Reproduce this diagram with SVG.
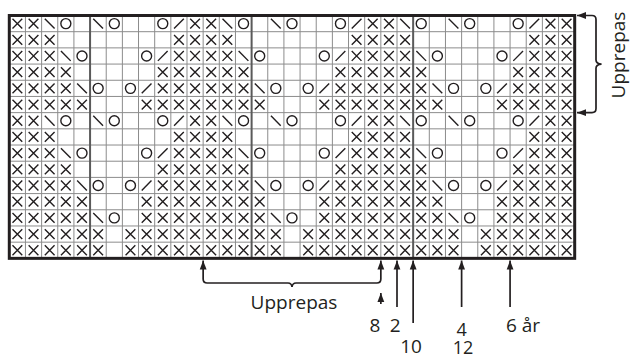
<svg xmlns="http://www.w3.org/2000/svg" width="630" height="358" viewBox="0 0 630 358">
<style>
.sym{fill:none;stroke:#231f20;stroke-width:1.4}
.thin{fill:none;stroke:#8c8c8c;stroke-width:1}
.thick{fill:none;stroke:#5a5a5a;stroke-width:2}
.border{fill:none;stroke:#231f20;stroke-width:3}
.conn{fill:none;stroke:#231f20;stroke-width:1.7}
.lbl{font-family:"Open Sans","Liberation Sans",sans-serif;font-size:19px;fill:#231f20}
.sm{font-size:18px}
</style>
<defs>
<path id="sx" d="M3.2 3.2L12.95 13M12.95 3.2L3.2 13"/>
<path id="sb" d="M3.2 3.2L12.95 13"/>
<path id="sf" d="M3.2 13L12.95 3.2"/>
<circle id="so" cx="8.08" cy="8.1" r="5"/>
<g id="rA"><use href="#sx" x="0"/><use href="#sx" x="16.15"/><use href="#sb" x="32.31"/><use href="#so" x="48.46"/><use href="#sb" x="80.77"/><use href="#so" x="96.92"/><use href="#so" x="145.39"/><use href="#sf" x="161.54"/></g>
<g id="rB"><use href="#sx" x="0"/><use href="#sx" x="16.15"/><use href="#sx" x="32.31"/><use href="#sx" x="161.54"/></g>
<g id="rC"><use href="#sx" x="0"/><use href="#sx" x="16.15"/><use href="#sx" x="32.31"/><use href="#sb" x="48.46"/><use href="#so" x="64.62"/><use href="#so" x="129.23"/><use href="#sf" x="145.39"/><use href="#sx" x="161.54"/></g>
<g id="rD"><use href="#sx" x="0"/><use href="#sx" x="16.15"/><use href="#sx" x="32.31"/><use href="#sx" x="48.46"/><use href="#sx" x="145.39"/><use href="#sx" x="161.54"/></g>
<g id="rE"><use href="#sx" x="0"/><use href="#sx" x="16.15"/><use href="#sx" x="32.31"/><use href="#sx" x="48.46"/><use href="#sb" x="64.62"/><use href="#so" x="80.77"/><use href="#so" x="113.08"/><use href="#sf" x="129.23"/><use href="#sx" x="145.39"/><use href="#sx" x="161.54"/></g>
<g id="rF"><use href="#sx" x="0"/><use href="#sx" x="16.15"/><use href="#sx" x="32.31"/><use href="#sx" x="48.46"/><use href="#sx" x="64.62"/><use href="#sx" x="129.23"/><use href="#sx" x="145.39"/><use href="#sx" x="161.54"/></g>
<g id="rG"><use href="#sx" x="0"/><use href="#sx" x="16.15"/><use href="#sx" x="32.31"/><use href="#sx" x="48.46"/><use href="#sx" x="64.62"/><use href="#sb" x="80.77"/><use href="#so" x="96.92"/><use href="#sx" x="129.23"/><use href="#sx" x="145.39"/><use href="#sx" x="161.54"/></g>
<g id="rH"><use href="#sx" x="0"/><use href="#sx" x="16.15"/><use href="#sx" x="32.31"/><use href="#sx" x="48.46"/><use href="#sx" x="64.62"/><use href="#sx" x="80.77"/><use href="#sx" x="113.08"/><use href="#sx" x="129.23"/><use href="#sx" x="145.39"/><use href="#sx" x="161.54"/></g>
<g id="per">
<use href="#rA" y="0"/><use href="#rB" y="16.19"/><use href="#rC" y="32.38"/><use href="#rD" y="48.57"/><use href="#rE" y="64.76"/><use href="#rF" y="80.95"/><use href="#rA" y="97.14"/><use href="#rB" y="113.33"/><use href="#rC" y="129.52"/><use href="#rD" y="145.71"/><use href="#rE" y="161.9"/><use href="#rF" y="178.09"/><use href="#rG" y="194.28"/><use href="#rH" y="210.47"/><use href="#rH" y="226.66"/>
</g>
<clipPath id="gc"><rect x="9.3" y="15.5" width="565.39" height="242.85"/></clipPath>
<marker id="ah" markerUnits="userSpaceOnUse" markerWidth="9" markerHeight="8" viewBox="0 0 9 8" refX="9" refY="4" orient="auto-start-reverse"><path d="M0 0.6L9 4L0 7.4z" fill="#231f20"/></marker>
</defs>
<rect width="630" height="358" fill="#fff"/>
<g id="chart">
<rect x="9.3" y="15.5" width="565.39" height="242.85" fill="#fff"/>
<path class="thin" d="M25.45 15.5V258.35M41.61 15.5V258.35M57.76 15.5V258.35M73.92 15.5V258.35M106.22 15.5V258.35M122.38 15.5V258.35M138.53 15.5V258.35M154.69 15.5V258.35M170.84 15.5V258.35M186.99 15.5V258.35M203.15 15.5V258.35M219.3 15.5V258.35M235.46 15.5V258.35M267.76 15.5V258.35M283.92 15.5V258.35M300.07 15.5V258.35M316.23 15.5V258.35M332.38 15.5V258.35M348.53 15.5V258.35M364.69 15.5V258.35M380.84 15.5V258.35M397 15.5V258.35M429.3 15.5V258.35M445.46 15.5V258.35M461.61 15.5V258.35M477.77 15.5V258.35M493.92 15.5V258.35M510.07 15.5V258.35M526.23 15.5V258.35M542.38 15.5V258.35M558.54 15.5V258.35M9.3 31.69H574.69M9.3 47.88H574.69M9.3 64.07H574.69M9.3 80.26H574.69M9.3 96.45H574.69M9.3 112.64H574.69M9.3 128.83H574.69M9.3 145.02H574.69M9.3 161.21H574.69M9.3 177.4H574.69M9.3 193.59H574.69M9.3 209.78H574.69M9.3 225.97H574.69M9.3 242.16H574.69"/>
<path class="thick" d="M90.07 15.5V258.35M251.61 15.5V258.35M413.15 15.5V258.35"/>
<g class="sym" clip-path="url(#gc)">
<use href="#per" x="9.3" y="15.5"/>
<use href="#per" x="186.99" y="15.5"/>
<use href="#per" x="364.69" y="15.5"/>
<use href="#per" x="542.38" y="15.5"/>
</g>
<rect class="border" x="9.3" y="15.5" width="565.39" height="242.85"/>
</g>
<g id="connectors" class="conn">
<path marker-start="url(#ah)" marker-end="url(#ah)" d="M577 15.5H592Q596 15.5 596 19.5V60Q596 63.6 601.5 64.1Q596 64.6 596 68.2V108.6Q596 112.64 592 112.64H577"/>
<path marker-start="url(#ah)" marker-end="url(#ah)" d="M203.15 260.5V279Q203.15 283 207.15 283H288Q291.5 283 292 287Q292.5 283 296 283H376.84Q380.84 283 380.84 279V260.5"/>
<path marker-end="url(#ah)" d="M380.84 304V293"/>
<path marker-end="url(#ah)" d="M397 307V260.5"/>
<path marker-end="url(#ah)" d="M413.15 323V260.5"/>
<path marker-end="url(#ah)" d="M461.61 307V260.5"/>
<path marker-end="url(#ah)" d="M510.07 307V260.5"/>
</g>
<g id="labels" class="lbl">
<text transform="translate(625 55) rotate(-90)" text-anchor="middle">Upprepas</text>
<text x="294" y="309" text-anchor="middle">Upprepas</text>
<text x="375" y="331.7" text-anchor="middle">8</text>
<text x="395.3" y="331.7" text-anchor="middle">2</text>
<text x="411" y="352.7" text-anchor="middle">10</text>
<text class="sm" x="461.7" y="335.5" text-anchor="middle">4</text>
<text class="sm" x="463" y="353.5" text-anchor="middle">12</text>
<text x="506" y="331.7">6 år</text>
</g>
</svg>
